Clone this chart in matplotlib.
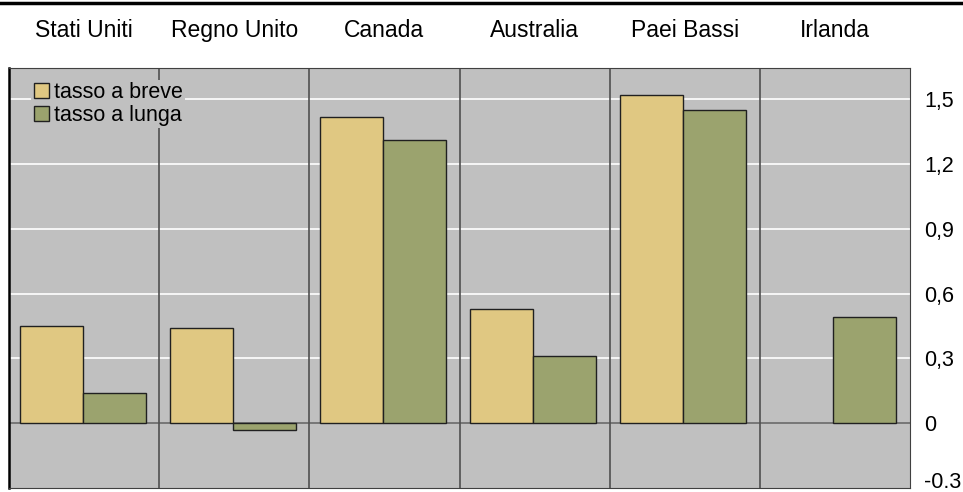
import matplotlib.pyplot as plt
from matplotlib.lines import Line2D
from matplotlib.ticker import FixedLocator
import numpy as np

plt.rcParams['font.family'] = ['Liberation Sans', 'DejaVu Sans']

paesi = ['Stati Uniti', 'Regno Unito', 'Canada', 'Australia', 'Paei Bassi', 'Irlanda']
tasso_breve = [0.45, 0.44, 1.42, 0.53, 1.52, 0.0]
tasso_lunga = [0.14, -0.03, 1.31, 0.31, 1.45, 0.49]
yticks = [-0.3, 0, 0.3, 0.6, 0.9, 1.2, 1.5]
ytick_labels = ['-0.3', '0', '0,3', '0,6', '0,9', '1,2', '1,5']

col_breve = '#E0C882'
col_lunga = '#9BA36E'
sfondo = '#C0C0C0'

fig = plt.figure(figsize=(9.63, 4.92), dpi=100)
ax = fig.add_axes([9 / 963, 4 / 492, 901 / 963, 420 / 492])
ax.set_facecolor(sfondo)

x = np.arange(len(paesi))
w = 0.42
# griglia
for t in [0.3, 0.6, 0.9, 1.2, 1.5]:
    ax.axhline(t, color='white', lw=1.2, zorder=1)
ax.axhline(0, color='#6a6a6a', lw=1.2, zorder=1)
for s in x[:-1] + 0.5:
    ax.axvline(s, color='#505050', lw=1.2, zorder=1)

ax.bar(x - w / 2 - 0.01, tasso_breve, w, color=col_breve, edgecolor='#202020',
       lw=1, zorder=2, label='tasso a breve')
ax.bar(x + w / 2 - 0.01, tasso_lunga, w, color=col_lunga, edgecolor='#202020',
       lw=1, zorder=2, label='tasso a lunga')
# Irlanda: nessuna barra a breve
ax.patches[5].set_visible(False)

ax.set_xlim(-0.5, 5.5)
ax.set_ylim(-0.3, 1.645)
ax.set_xticks([])
ax.yaxis.tick_right()
ax.yaxis.set_major_locator(FixedLocator(yticks))
# l'etichetta in fondo va un po' piu' su per non essere tagliata
ax.set_yticklabels([''] + ytick_labels[1:], fontsize=15.5)
ax.tick_params(axis='y', length=0, pad=10)
ax.text(1 + 14 / 901, yticks[0] + 0.025, ytick_labels[0], transform=ax.get_yaxis_transform(),
        ha='left', va='center', fontsize=15.5, clip_on=False)

for sp in ['top', 'bottom', 'right']:
    ax.spines[sp].set_color('#404040')
ax.spines['left'].set_color('black')
ax.spines['left'].set_linewidth(1.8)

for i, p in enumerate(paesi):
    ax.text(i, 1 + 38 / 420, p, transform=ax.get_xaxis_transform(),
            ha='center', va='center', fontsize=16.5)

leg = ax.legend(loc='upper left', bbox_to_anchor=(0.013, 0.998), fontsize=15.5,
                frameon=True, facecolor=sfondo, edgecolor='none', framealpha=1,
                fancybox=False, handlelength=0.7, handleheight=0.7,
                handletextpad=0.25, labelspacing=0.1, borderpad=0.1)
leg.set_zorder(5)

fig.add_artist(Line2D([0, 1], [1 - 3 / 492, 1 - 3 / 492], color='black', lw=2.5))

fig.savefig('out.png', dpi=100)
